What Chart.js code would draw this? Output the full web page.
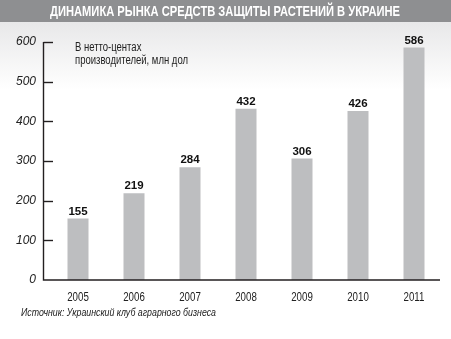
<!DOCTYPE html>
<html>
<head>
<meta charset="utf-8">
<script src="https://cdn.jsdelivr.net/npm/chart.js@4/dist/chart.umd.min.js"></script>
<style>
  html, body { margin: 0; padding: 0; background: #fff; }
  #chart { display: block; }
</style>
</head>
<body>
<canvas id="chart" width="451" height="339"></canvas>
<script>
const years = ['2005', '2006', '2007', '2008', '2009', '2010', '2011'];
const marketValues = [155, 219, 284, 432, 306, 426, 586];
const yTicks = [0, 100, 200, 300, 400, 500, 600];

const titleText = 'ДИНАМИКА РЫНКА СРЕДСТВ ЗАЩИТЫ РАСТЕНИЙ В УКРАИНЕ';
const noteLines = ['В нетто-центах', 'производителей, млн дол'];
const sourceText = 'Источник: Украинский клуб аграрного бизнеса';

const SANS = "'Liberation Sans', Arial, sans-serif";

// no narrow font installed, so squeeze the text horizontally instead
function squeezedText(ctx, text, x, y, font, squeeze, align) {
    ctx.save();
    ctx.font = font;
    ctx.textBaseline = 'middle';
    ctx.textAlign = align || 'left';
    ctx.translate(x, y);
    ctx.scale(squeeze, 1);
    ctx.fillText(text, 0, 0);
    ctx.restore();
}

function squeezeFor(ctx, text, font, width) {
    ctx.save();
    ctx.font = font;
    const w = ctx.measureText(text).width;
    ctx.restore();
    return width / w;
}

// background, header band and title
const backdrop = {
    id: 'backdrop',
    beforeDraw(chart) {
        const ctx = chart.ctx;
        ctx.save();
        ctx.fillStyle = '#ffffff';
        ctx.fillRect(0, 0, chart.width, chart.height);
        const g = ctx.createLinearGradient(0, 22, 0, 90);
        g.addColorStop(0, '#e8e8e9');
        g.addColorStop(1, '#ffffff');
        ctx.fillStyle = g;
        ctx.fillRect(0, 22, chart.width, 68);
        ctx.fillStyle = '#8e8f91';
        ctx.fillRect(0, 0, chart.width, 22);
        ctx.restore();

        const titleFont = 'bold 14px ' + SANS;
        ctx.fillStyle = '#ffffff';
        squeezedText(ctx, titleText, 225, 12, titleFont, squeezeFor(ctx, titleText, titleFont, 350), 'center');
    }
};

// axis lines, inner tick marks, labels and notes
const decorations = {
    id: 'decorations',
    afterDatasetsDraw(chart) {
        const ctx = chart.ctx;
        const x = chart.scales.x;
        const y = chart.scales.y;
        const axisX = 43.5;
        ctx.save();
        ctx.strokeStyle = '#231f20';
        ctx.lineWidth = 1.4;
        ctx.beginPath();
        ctx.moveTo(axisX, y.getPixelForValue(600));
        ctx.lineTo(axisX, y.getPixelForValue(0));
        ctx.lineTo(440, y.getPixelForValue(0));
        ctx.stroke();
        yTicks.forEach(v => {
            if (v === 0) return;
            const py = Math.round(y.getPixelForValue(v)) + 0.5;
            ctx.beginPath();
            ctx.moveTo(axisX, py);
            ctx.lineTo(53, py);
            ctx.stroke();
        });

        ctx.fillStyle = '#111';
        ctx.font = 'bold 11.5px ' + SANS;
        ctx.textAlign = 'center';
        ctx.textBaseline = 'alphabetic';
        chart.getDatasetMeta(0).data.forEach((bar, i) => {
            ctx.fillText(String(marketValues[i]), bar.x, bar.y - 4);
        });
        ctx.restore();

        // category labels, placed by the x scale
        ctx.fillStyle = '#222';
        const yearFont = '12px ' + SANS;
        const yearSqueeze = squeezeFor(ctx, '2005', yearFont, 21.6);
        years.forEach((yr, i) => {
            squeezedText(ctx, yr, x.getPixelForTick(i), y.getPixelForValue(0) + 18, yearFont, yearSqueeze, 'center');
        });

        const noteFont = '12px ' + SANS;
        const noteSqueeze = squeezeFor(ctx, noteLines[1], noteFont, 113);
        squeezedText(ctx, noteLines[0], 75, 47.5, noteFont, noteSqueeze);
        squeezedText(ctx, noteLines[1], 75, 61, noteFont, noteSqueeze);

        const srcFont = 'italic 11.5px ' + SANS;
        squeezedText(ctx, sourceText, 21, 312.5, srcFont, squeezeFor(ctx, sourceText, srcFont, 195));
    }
};

new Chart(document.getElementById('chart'), {
    type: 'bar',
    data: {
        labels: years,
        datasets: [{
            data: marketValues,
            backgroundColor: '#bdbec0',
            borderWidth: 0,
            categoryPercentage: 1,
            barPercentage: 0.375
        }]
    },
    options: {
        responsive: false,
        animation: false,
        devicePixelRatio: 1,
        layout: { padding: { top: 42, right: 9, bottom: 0, left: 0 } },
        plugins: {
            legend: { display: false },
            title: { display: false },
            tooltip: { enabled: false }
        },
        scales: {
            x: {
                grid: { display: false, drawTicks: false },
                border: { display: false },
                ticks: { display: false },
                afterFit: s => { s.height = 59; }
            },
            y: {
                min: 0,
                max: 600,
                grid: { display: false, drawTicks: false },
                border: { display: false },
                ticks: {
                    stepSize: 100,
                    font: { family: SANS, size: 12, style: 'italic' },
                    color: '#222',
                    padding: 14
                },
                afterFit: s => { s.width = 50; }
            }
        }
    },
    plugins: [backdrop, decorations]
});
</script>
</body>
</html>
